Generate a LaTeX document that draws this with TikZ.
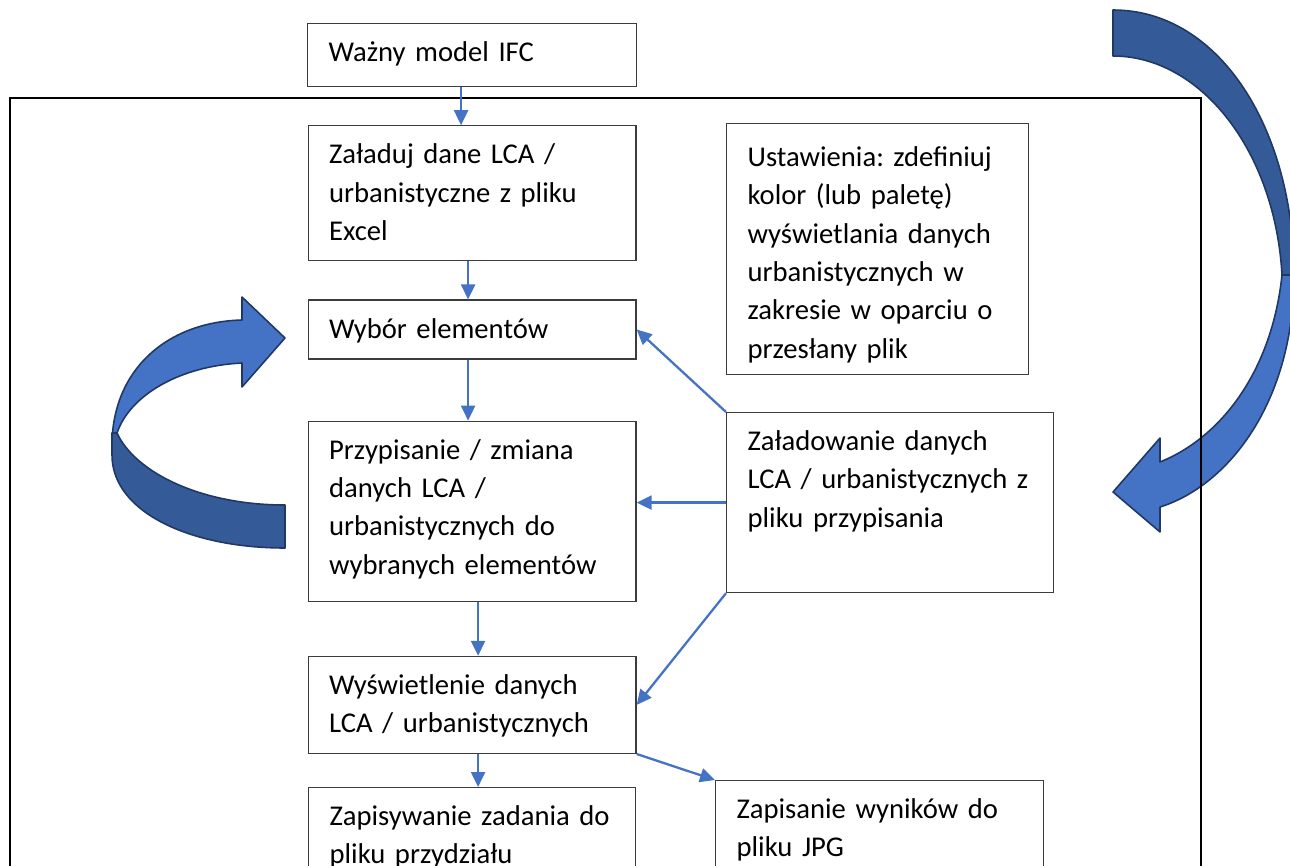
\documentclass[tikz,border=0pt]{standalone}
\usepackage{fontspec}
\setmainfont{Carlito}
\frenchspacing
\usepackage{tikz}
\usetikzlibrary{positioning}
\usetikzlibrary{arrows.meta}
\definecolor{flowblue}{RGB}{68,114,196}
\definecolor{backblue}{RGB}{52,90,152}
\definecolor{rimblue}{RGB}{32,56,100}
\definecolor{boxgray}{RGB}{60,60,60}
\tikzstyle{box}=[draw=boxgray, line width=0.7pt, fill=white, align=left, anchor=north west, inner xsep=0.42cm, inner ysep=0pt, text height=0.76cm, font=\fontsize{16.3pt}{21.8pt}\selectfont]
\tikzstyle{flow}=[draw=flowblue, line width=1.3pt, -{Triangle[length=0.3cm,width=0.28cm]}]
\tikzstyle{bigarrow}=[draw=rimblue, line width=0.9pt, line join=round]

\begin{document}
\begin{tikzpicture}[x=0.02cm, y=-0.02cm]
            \useasboundingbox (0,0) rectangle (1290,865);
            \clip (0,0) rectangle (1290,865);

            % big curved arrows
            \filldraw[bigarrow, fill=flowblue] (112,450) .. controls (110,372) and (165,322) .. (242,320) -- (242,297) -- (285,338) -- (242,387) -- (242,363) .. controls (180,366) and (130,395) .. (117,433) -- cycle;
            \filldraw[bigarrow, fill=backblue] (112,433) -- (112,455) .. controls (112,512) and (190,548) .. (285,548) -- (285,505) .. controls (200,505) and (135,472) .. (117,433) -- cycle;
            \filldraw[bigarrow, fill=backblue] (1113,10) .. controls (1220,10) and (1294,130) .. (1294,275) -- (1282,275) .. controls (1275,150) and (1200,56) .. (1113,56) -- cycle;
            \filldraw[bigarrow, fill=flowblue] (1294,275) .. controls (1294,400) and (1230,485) .. (1160,507) -- (1160,532) -- (1113,492) -- (1160,438) -- (1160,462) .. controls (1222,437) and (1272,370) .. (1282,275) -- cycle;

            \draw[line width=1.6pt] (10,98) rectangle (1201,900);

            \node[box, text width=5.74cm, text depth=0.5cm] (ifc) at (307,23) {Ważny model IFC};
            \node[box, text width=5.72cm, text depth=1.94cm, below=0.76cm of ifc] (zal) {Załaduj dane LCA /\\ urbanistyczne z pliku\\ Excel};
            \node[box, text width=5.72cm, text depth=0.42cm, below=0.76cm of zal] (wyb) {Wybór elementów};
            \node[box, text width=5.72cm, text depth=2.84cm, below=1.22cm of wyb] (przyp) {Przypisanie / zmiana\\ danych LCA /\\ urbanistycznych do\\ wybranych elementów};
            \node[box, text width=5.72cm, text depth=1.18cm, below=1.08cm of przyp] (wysw) {Wyświetlenie danych\\ LCA / urbanistycznych};
            \node[box, text width=5.7cm, text depth=1.64cm, below=0.66cm of wysw] (zpw) {\mbox{Zapisywanie zadania do}\\ pliku przydziału};
            \node[box, text width=5.72cm, text depth=1.64cm] (zps) at (715,780) {Zapisanie wyników do\\ pliku JPG};
            \node[box, text width=5.2cm, text height=0.86cm, text depth=4.16cm] (ust) at (726,123) {Ustawienia: zdefiniuj\\ kolor (lub paletę)\\ wyświetlania danych\\ urbanistycznych w\\ zakresie w oparciu o\\ przesłany plik};
            \node[box, text width=5.7cm, text depth=2.84cm] (zldw) at (726,412) {Załadowanie danych\\ \mbox{LCA / urbanistycznych z}\\ pliku przypisania};

            \draw[flow] ([xshift=-0.22cm]ifc.south) -- ([xshift=-0.22cm]zal.north);
            \draw[flow] ([xshift=-0.08cm]zal.south) -- ([xshift=-0.08cm]wyb.north);
            \draw[flow] ([xshift=-0.08cm]wyb.south) -- ([xshift=-0.08cm]przyp.north);
            \draw[flow] ([xshift=0.12cm]przyp.south) -- ([xshift=0.12cm]wysw.north);
            \draw[flow] ([xshift=0.12cm]wysw.south) -- ([xshift=0.12cm]zpw.north);
            \draw[flow] (wysw.south east) -- (zps.north west);
            \draw[flow] (zldw.north west) -- (wyb.east);
            \draw[flow] (zldw.west) -- (zldw.west -| przyp.east);
            \draw[flow] (zldw.south west) -- (wysw.east);
        \end{tikzpicture}
\end{document}
